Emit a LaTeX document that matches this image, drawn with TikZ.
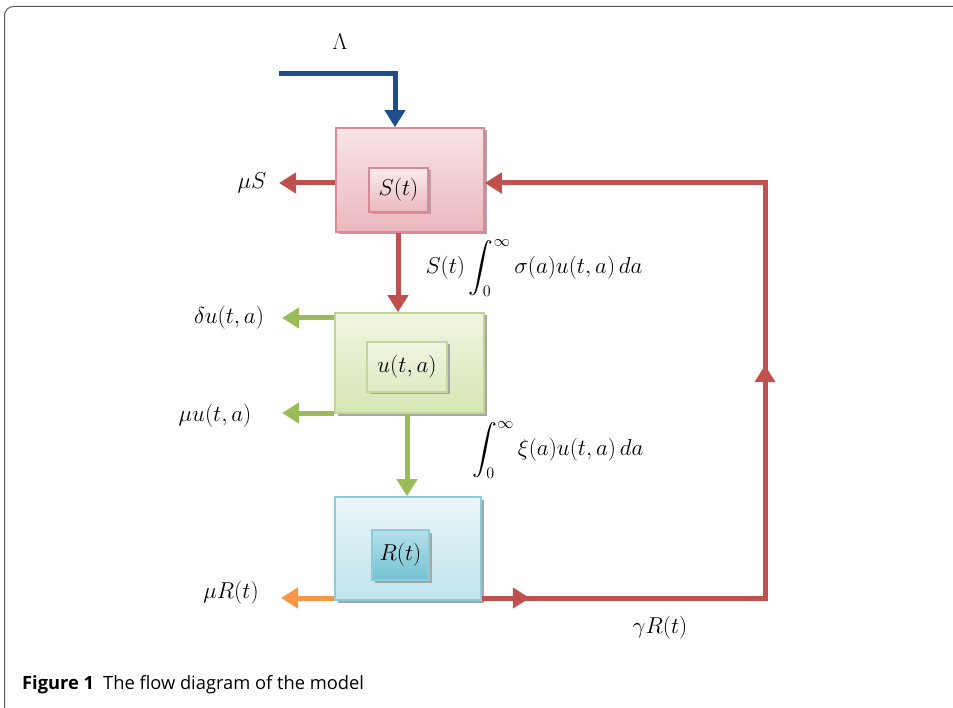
\RequirePackage{fix-cm}
\documentclass[tikz,border=0pt]{standalone}
\usepackage{amsmath}
\usepackage{fontspec}
\newfontfamily\capfont{Open Sans}
\usetikzlibrary{arrows.meta,decorations.markings}
\definecolor{cred}{HTML}{C0504D}
\definecolor{cgreen}{HTML}{9BBB59}
\definecolor{cblue}{HTML}{1F4E8C}
\definecolor{corange}{HTML}{F79646}
\definecolor{pinkT}{HTML}{F8E4E6}
\definecolor{pinkB}{HTML}{EBB8BE}
\definecolor{pinkD}{HTML}{D98A94}
\definecolor{greenT}{HTML}{F1F6E2}
\definecolor{greenB}{HTML}{D5E5B3}
\definecolor{greenD}{HTML}{C2D69B}
\definecolor{blueT}{HTML}{EAF6F9}
\definecolor{blueB}{HTML}{BFE3EB}
\definecolor{blueD}{HTML}{8ECBD8}
\definecolor{blueIT}{HTML}{B5E0EA}
\definecolor{blueIB}{HTML}{74C2D3}
\tikzset{
  outer/.style={draw, line width=1.6pt, minimum width=#1, inner sep=0pt},
  shadowed/.style={preaction={fill=black!35, transform canvas={xshift=2.5pt,yshift=-2.5pt}}},
  lbl/.style={font=\fontsize{23}{27}\selectfont, inner sep=1pt},
  flow/.style={line width=5pt, -{Triangle[width=20pt,length=17pt]}},
}
\begin{document}
\begin{tikzpicture}[x=1pt,y=-1pt]
\clip (0,0) rectangle (953,708);
\fill[white] (0,0) rectangle (953,708);
% frame
\draw[gray!70!black, line width=1pt, rounded corners=9pt] (4.5,6.5) rectangle (980,730);

% boxes
\node[outer, shadowed, draw=pinkD, top color=pinkT, bottom color=pinkB, minimum width=148pt, minimum height=104pt] (S) at (410,180) {};
\node[outer, shadowed, draw=pinkD, top color=pinkT!70!white, bottom color=pinkB, minimum width=59pt, minimum height=44pt, line width=1.2pt, lbl] (Si) at (398.5,190) {$S(t)$};

\node[outer, shadowed, draw=greenD, top color=greenT, bottom color=greenB, minimum width=149pt, minimum height=100pt] (U) at (409.5,363) {};
\node[outer, shadowed, draw=greenD, top color=greenT, bottom color=greenB!80!white, minimum width=80pt, minimum height=50pt, line width=1.2pt, lbl] (Ui) at (407,367) {$u(t,a)$};

\node[outer, shadowed, draw=blueD, top color=blueT, bottom color=blueB, minimum width=146pt, minimum height=103pt] (R) at (408,548.5) {};
\node[outer, shadowed, draw=blueD, top color=blueIT, bottom color=blueIB, minimum width=57pt, minimum height=50pt, line width=1.2pt, lbl] (Ri) at (400.5,555) {$R(t)$};

% labels
\node[lbl] (lam) at (340,42) {$\Lambda$};
\node[lbl] (muS) at (252,183) {$\mu S$};
\node[lbl] (inf1) at (534,268) {$S(t)\displaystyle\int_0^\infty \sigma(a)u(t,a)\,da$};
\node[lbl] (du) at (229,318) {$\delta u(t,a)$};
\node[lbl] (muu) at (215,416) {$\mu u(t,a)$};
\node[lbl] (inf2) at (558,450) {$\displaystyle\int_0^\infty \xi(a)u(t,a)\,da$};
\node[lbl] (muR) at (231,593) {$\mu R(t)$};
\node[lbl] (gR) at (660,628) {$\gamma R(t)$};

% coordinates
\coordinate (lamstart) at (279,74);
\coordinate (muSend) at (279,183);
\coordinate (duend) at (282,318);
\coordinate (muuend) at (282,413);
\coordinate (muRend) at (281,598);
\coordinate (c1) at (765,598);
\coordinate (c2) at (765,183);

% arrows
\draw[flow, cblue] (lamstart) -| ([xshift=-15pt]S.north);
\draw[flow, cred] ([yshift=-3pt]S.west) -- (muSend);
\draw[flow, cred] ([xshift=-12pt]S.south) -- ([xshift=-11.5pt]U.north);
\draw[flow, cgreen] ([yshift=45pt]U.west) -- (duend);
\draw[flow, cgreen] ([yshift=-50pt]U.west) -- (muuend);
\draw[flow, cgreen] ([xshift=-2.5pt]U.south) -- ([xshift=-1pt]R.north);
\draw[flow, corange] ([yshift=-49.5pt]R.west) -- (muRend);
\draw[flow, cred, line join=miter,
  postaction={decorate, decoration={markings,
    mark=at position 48pt with {\arrow{Triangle[width=20pt,length=17pt]}},
    mark=at position 516pt with {\arrow{Triangle[width=20pt,length=17pt]}}}}]
  ([yshift=-49.5pt]R.east) -- (c1) -- (c2) -- ([yshift=-3pt]S.east);

% caption
\node[anchor=base west, inner sep=0pt, font=\capfont\fontsize{18.3}{22}\selectfont] (cap) at (22,689) {\textbf{Figure 1}\hspace{9pt}The flow diagram of the model};
\end{tikzpicture}
\end{document}
